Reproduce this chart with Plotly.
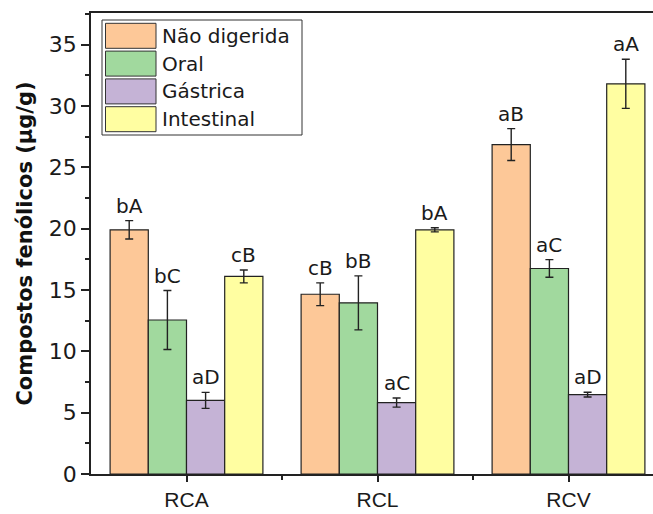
import plotly.graph_objects as go

categories = ["RCA", "RCL", "RCV"]
series_names = ["Não digerida", "Oral", "Gástrica", "Intestinal"]
colors = ["#FDC898", "#A1D99E", "#C5B3D6", "#FFFEA1"]

nao_digerida = [19.9, 14.65, 26.85]
oral = [12.55, 13.95, 16.75]
gastrica = [6.0, 5.82, 6.47]
intestinal = [16.1, 19.9, 31.8]

err_nao_digerida = [0.75, 0.93, 1.3]
err_oral = [2.4, 2.2, 0.72]
err_gastrica = [0.65, 0.37, 0.19]
err_intestinal = [0.52, 0.17, 2.0]

letters_nao_digerida = ["bA", "cB", "aB"]
letters_oral = ["bC", "bB", "aC"]
letters_gastrica = ["aD", "aC", "aD"]
letters_intestinal = ["cB", "bA", "aA"]

y_tick_values = [0, 5, 10, 15, 20, 25, 30, 35]

values = [nao_digerida, oral, gastrica, intestinal]
errors = [err_nao_digerida, err_oral, err_gastrica, err_intestinal]
letters = [letters_nao_digerida, letters_oral, letters_gastrica, letters_intestinal]

W, H = 653, 514
ML, MR, MT, MB = 91, 0, 13, 40
bargap = 0.2
n = len(series_names)
bw = (1 - bargap) / n

xpos = list(range(len(categories)))

fig = go.Figure()
for j in range(n):
    fig.add_trace(go.Bar(
        x=xpos, y=values[j], name=series_names[j],
        marker=dict(color=colors[j], line=dict(color="#222222", width=1.2)),
        error_y=dict(type="data", array=errors[j], color="#222222", thickness=1.4, width=4),
        showlegend=False,
    ))

annotations = []
for j in range(n):
    for i in range(len(categories)):
        annotations.append(dict(
            x=i + (j - (n - 1) / 2) * bw, y=values[j][i] + errors[j][i],
            xref="x", yref="y", text=letters[j][i], showarrow=False,
            yanchor="bottom", yshift=1,
            font=dict(family="DejaVu Sans", size=20, color="#1a1a1a"),
        ))

# custom legend (large swatches)
pw = W - ML - MR
ph = H - MT - MB
def px(x):
    return (x - ML) / pw
def py(y):
    return (H - MB - y) / ph

shapes = [dict(type="rect", xref="paper", yref="paper",
               x0=px(102), x1=px(302), y0=py(135), y1=py(20),
               line=dict(color="#333333", width=1), fillcolor="white", layer="above")]
for j in range(n):
    top = 23.3 + 27.8 * j
    shapes.append(dict(type="rect", xref="paper", yref="paper",
                       x0=px(105.5), x1=px(156), y0=py(top + 25), y1=py(top),
                       line=dict(color="#333333", width=1), fillcolor=colors[j], layer="above"))
    annotations.append(dict(
        x=px(160), y=py(top + 12.5), xref="paper", yref="paper",
        text=series_names[j], showarrow=False, xanchor="left", yanchor="middle",
        font=dict(family="DejaVu Sans", size=20, color="#1a1a1a"),
    ))

fig.update_layout(
    width=W, height=H,
    margin=dict(l=ML, r=MR, t=MT, b=MB, pad=0, autoexpand=False),
    paper_bgcolor="white", plot_bgcolor="white",
    barmode="group", bargap=bargap, bargroupgap=0,
    annotations=annotations, shapes=shapes,
    showlegend=False,
)
fig.update_xaxes(
    range=[-0.5, -0.5 + pw / 191.0],
    tickvals=xpos, ticktext=categories,
    ticks="outside", ticklen=6, tickwidth=1.5, tickcolor="#222222",
    minor=dict(tickvals=[0.5, 1.5], ticks="outside", ticklen=4, tickwidth=1.5, tickcolor="#222222"),
    showline=True, linecolor="#222222", linewidth=1.6, mirror=True,
    showgrid=False, zeroline=False,
    tickfont=dict(family="Liberation Sans", size=21, color="#1a1a1a"),
    ticklabelstandoff=0, automargin=False,
)
fig.update_yaxes(
    range=[0, (H - MB - MT) / 12.27],
    tickvals=y_tick_values,
    ticks="outside", ticklen=8, tickwidth=1.5, tickcolor="#222222",
    minor=dict(dtick=2.5, ticks="outside", ticklen=4, tickwidth=1.5, tickcolor="#222222"),
    showline=True, linecolor="#222222", linewidth=1.6,
    showgrid=False, zeroline=False, automargin=False,
    tickfont=dict(family="DejaVu Sans", size=22, color="#1a1a1a"),
    title=dict(text="Compostos fenólicos (µg/g)",
               font=dict(family="DejaVu Sans", size=21, color="#111111", weight="bold"),
               standoff=10),
)

fig.write_html("out.html", config={"displayModeBar": False},
               post_script="document.body.style.margin='0';document.body.style.overflow='hidden';")
